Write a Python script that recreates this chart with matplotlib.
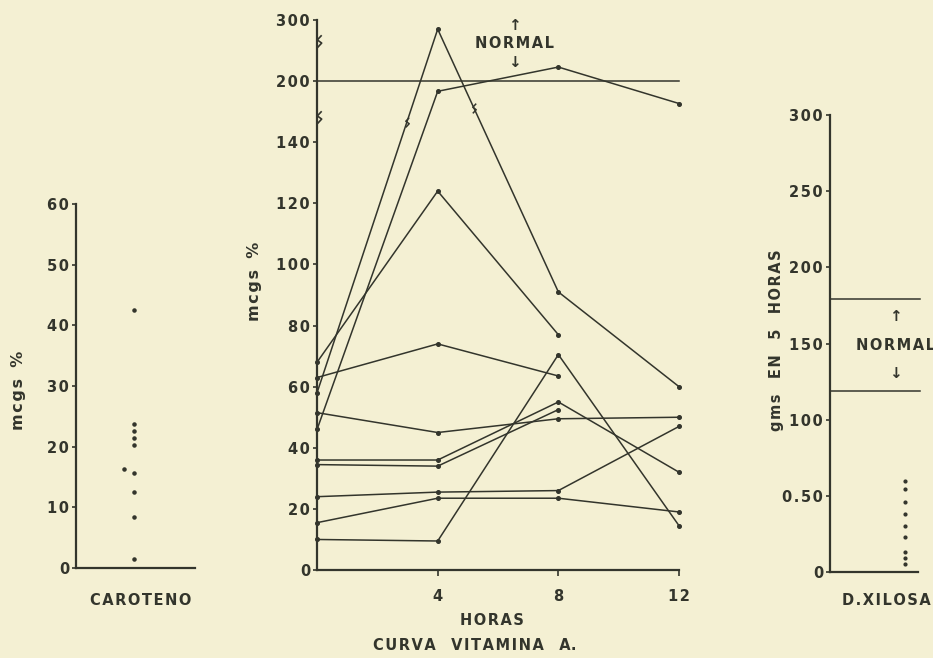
import numpy as np
import matplotlib
matplotlib.use('Agg')
import matplotlib.pyplot as plt
from matplotlib.path import Path

# --- data ---
horas = [0, 4, 8, 12]
nan = np.nan
curva_a = [58, 285, 91, 60]
curva_b = [46, 190, 223, 178]
curva_c = [68, 124, 77, nan]
curva_d = [63, 74, 63.5, nan]
curva_e = [51.5, 45, 49.5, 50]
curva_f = [36, 36, 55, 32]
curva_g = [34.5, 34, 52.5, nan]
curva_h = [24, 25.5, 26, 47]
curva_i = [15.5, 23.5, 23.5, 19]
curva_j = [10, 9.5, 70.5, 14.5]
curvas = [curva_a, curva_b, curva_c, curva_d, curva_e,
          curva_f, curva_g, curva_h, curva_i, curva_j]
normal_vit = 200

vit_ticks = [0, 20, 40, 60, 80, 100, 120, 140, 200, 300]

caroteno_x = [0.49, 0.49, 0.49, 0.49, 0.49, 0.40, 0.49, 0.49, 0.49, 0.49]
caroteno_y = [42.5, 23.8, 22.6, 21.5, 20.3, 16.3, 15.7, 12.6, 8.4, 1.5]

xilosa_y = [60, 54.4, 46.2, 37.9, 29.9, 22.9, 12.9, 9.0, 5.0]
xilosa_normal = [119, 179]
xilosa_ticks = [0, 50, 100, 150, 200, 250, 300]
xilosa_labels = ['0', '0.50', '100', '150', '200', '250', '300']

# --- look ---
papel = '#f4f0d3'
tinta = '#33352c'
plt.rcParams['font.family'] = ['DejaVu Sans']
plt.rcParams['font.weight'] = 'bold'
plt.rcParams['text.color'] = tinta
plt.rcParams['axes.edgecolor'] = tinta
plt.rcParams['xtick.color'] = tinta
plt.rcParams['ytick.color'] = tinta

FS = 10.5

def sp(s):
    # stencil lettering is widely spaced
    return '\u200a'.join(s)

# broken axis: 0-140 evenly, then 200 and 300 one step each
brk_vals = [0, 140, 200, 300]
brk_pos = [0, 7, 8, 9]
def fwd(v):
    return np.interp(v, brk_vals, brk_pos)
def inv(p):
    return np.interp(p, brk_pos, brk_vals)

zig = Path([(-0.35, -1.0), (0.35, -0.25), (-0.35, 0.25), (0.35, 1.0)],
           [Path.MOVETO, Path.LINETO, Path.LINETO, Path.LINETO])

def estilo(ax):
    ax.set_facecolor('none')
    for s in ['top', 'right']:
        ax.spines[s].set_visible(False)
    ax.spines['left'].set_linewidth(1.6)
    ax.spines['bottom'].set_linewidth(1.6)
    ax.tick_params(axis='y', direction='out', length=3, width=1.2,
                   pad=2, labelsize=FS)
    for t in ax.get_yticklabels():
        t.set_fontweight('bold')

fig = plt.figure(figsize=(9.33, 6.58), dpi=100)
fig.patch.set_facecolor(papel)

# ---------- CAROTENO ----------
ax1 = fig.add_axes([0.0815, 0.1368, 0.1275, 0.5532])
ax1.scatter(caroteno_x, caroteno_y, s=5, color=tinta, zorder=3)
ax1.set_xlim(0, 1)
ax1.set_ylim(0, 60)
t1 = [0, 10, 20, 30, 40, 50, 60]
ax1.set_yticks(t1)
ax1.set_yticklabels([sp(str(t)) for t in t1])
ax1.set_xticks([])
estilo(ax1)
fig.text(0.020, 0.407, sp('mcgs') + '  %', rotation=90, ha='center',
         va='center', fontsize=11.5, fontweight='bold')
fig.text(0.151, 0.088, sp('CAROTENO'), ha='center', va='center',
         fontsize=FS, fontweight='bold')

# ---------- CURVA VITAMINA A ----------
ax2 = fig.add_axes([0.3398, 0.1337, 0.388, 0.8359])
ax2.set_yscale('function', functions=(fwd, inv))
for c in curvas:
    xs = [h for h, v in zip(horas, c) if not np.isnan(v)]
    ys = [v for v in c if not np.isnan(v)]
    ax2.plot(xs, ys, color=tinta, lw=1.1, marker='o', ms=2.6,
             clip_on=False, zorder=3)
ax2.plot([0, 12], [normal_vit, normal_vit], color=tinta, lw=1.1, clip_on=False)

# little break marks drawn on the peak curve
for xm, h0, h1, v0, v1 in [(2.98, 0, 4, curva_a[0], curva_a[1]),
                           (5.2, 4, 8, curva_a[1], curva_a[2])]:
    p = fwd(v0) + (xm - h0) * (fwd(v1) - fwd(v0)) / (h1 - h0)
    ax2.plot(xm, inv(p), marker=zig, ms=7, mfc='none', mec=tinta,
             mew=1.1, zorder=4)
# break marks on the y axis
ax2.plot([0.05, 0.05], [265, 165], linestyle='none', marker=zig, ms=9,
         mfc='none', mec=tinta, mew=1.2, clip_on=False, zorder=4)

ax2.set_xlim(0, 12)
ax2.set_ylim(0, 300)
ax2.set_yticks(vit_ticks)
ax2.set_yticklabels([sp(str(t)) for t in vit_ticks])
ax2.yaxis.set_minor_locator(matplotlib.ticker.NullLocator())
ax2.set_xticks([4, 8, 12])
ax2.set_xticklabels(['4', '8', sp('12')])
ax2.tick_params(axis='x', direction='out', length=4, width=1.2, pad=10,
                labelsize=FS)
estilo(ax2)
for t in ax2.get_xticklabels():
    t.set_fontweight('bold')
ax2.text(6.55, 261, sp('NORMAL'), ha='center', va='center', fontsize=FS,
         fontweight='bold')
ax2.text(6.55, 291, '\u2191', ha='center', va='center', fontsize=11)
ax2.text(6.55, 231, '\u2193', ha='center', va='center', fontsize=11)
fig.text(0.273, 0.572, sp('mcgs') + '  %', rotation=90, ha='center',
         va='center', fontsize=11.5, fontweight='bold')
fig.text(0.527, 0.057, sp('HORAS'), ha='center', va='center',
         fontsize=FS, fontweight='bold')
fig.text(0.509, 0.019, sp('CURVA') + '   ' + sp('VITAMINA') + '   A.',
         ha='center', va='center', fontsize=FS, fontweight='bold')

# ---------- D. XILOSA ----------
ax3 = fig.add_axes([0.8896, 0.1307, 0.0943, 0.6945])
ax3.scatter([0.85] * len(xilosa_y), xilosa_y, s=4, color=tinta, zorder=3)
for yn in xilosa_normal:
    ax3.plot([0, 1.02], [yn, yn], color=tinta, lw=1.1, clip_on=False)
ax3.set_xlim(0, 1)
ax3.set_ylim(0, 300)
ax3.set_yticks(xilosa_ticks)
ax3.set_yticklabels([sp(l) for l in xilosa_labels])
ax3.set_xticks([])
estilo(ax3)
ax3.text(0.74, 149, sp('NORMAL'), ha='center', va='center', fontsize=FS,
         fontweight='bold')
ax3.text(0.74, 168, '\u2191', ha='center', va='center', fontsize=11)
ax3.text(0.74, 130, '\u2193', ha='center', va='center', fontsize=11)
fig.text(0.832, 0.483, sp('gms') + '   ' + sp('EN') + '   5   ' + sp('HORAS'),
         rotation=90, ha='center', va='center', fontsize=FS,
         fontweight='bold')
fig.text(0.950, 0.088, sp('D.XILOSA'), ha='center', va='center',
         fontsize=FS, fontweight='bold')

fig.savefig('out.png', dpi=100, facecolor=papel)
